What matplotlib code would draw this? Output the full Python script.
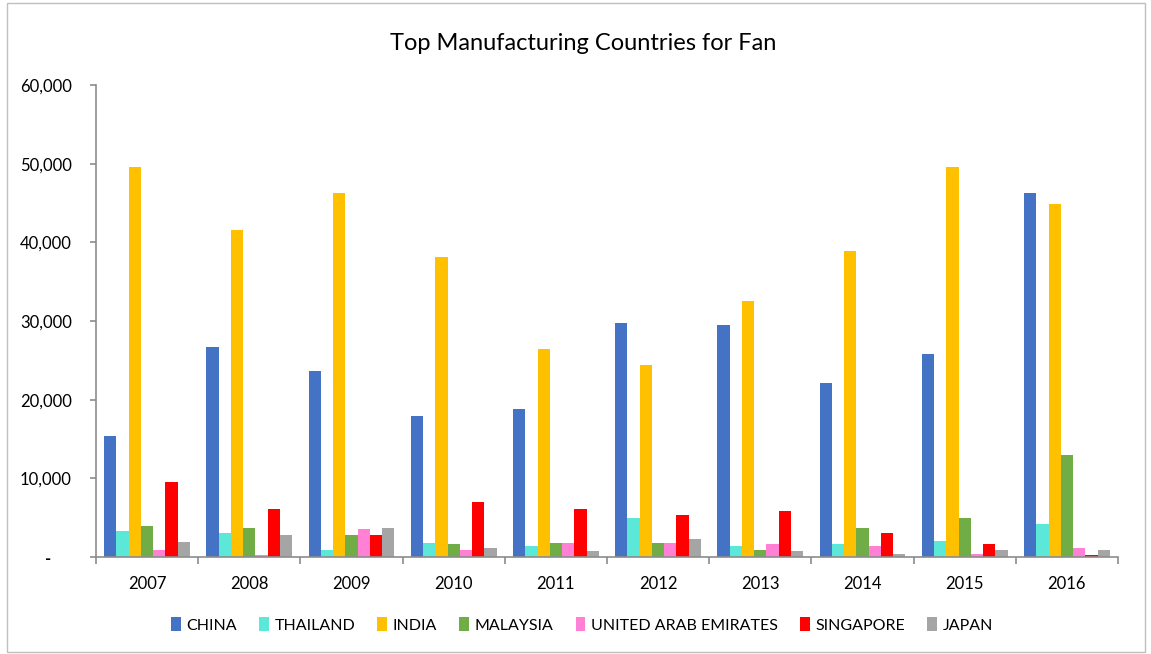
import matplotlib
matplotlib.use("Agg")
import matplotlib.pyplot as plt
import numpy as np
from matplotlib.patches import Rectangle, Patch
from matplotlib.ticker import FuncFormatter

years = ["2007", "2008", "2009", "2010", "2011", "2012", "2013", "2014", "2015", "2016"]
countries = ["CHINA", "THAILAND", "INDIA", "MALAYSIA", "UNITED ARAB EMIRATES", "SINGAPORE", "JAPAN"]
china = [15400, 26750, 23700, 17900, 18850, 29800, 29550, 22100, 25850, 46300]
thailand = [3250, 3000, 900, 1800, 1400, 4900, 1400, 1600, 2000, 4200]
india = [49600, 41600, 46300, 38150, 26500, 24450, 32600, 38850, 49600, 44900]
malaysia = [3900, 3700, 2800, 1600, 1800, 1800, 900, 3700, 4900, 13000]
uae = [900, 200, 3500, 900, 1800, 1800, 1600, 1400, 400, 1150]
singapore = [9500, 6100, 2800, 7000, 6100, 5300, 5800, 3000, 1600, 200]
japan = [1870, 2800, 3700, 1150, 700, 2300, 700, 400, 900, 900]
colors = ["#4472C4", "#5BE8D8", "#FFC000", "#70AD47", "#FF80D5", "#FF0000", "#A5A5A5"]

series = [china, thailand, india, malaysia, uae, singapore, japan]

plt.rcParams['font.family'] = ['Lato', 'DejaVu Sans']

fig = plt.figure(figsize=(11.51, 6.54), dpi=100)
ax = fig.add_axes([96/1151, 97/654, (1118-96)/1151, (557-85)/654])

x = np.arange(len(years))
bw = 0.12
n = len(series)
for i, (vals, c, name) in enumerate(zip(series, colors, countries)):
    ax.bar(x + (i - (n-1)/2) * bw, vals, width=bw, color=c, label=name, zorder=2)

ax.set_xlim(-0.5, len(years) - 0.5)
ax.set_ylim(0, 60000)
ax.set_yticks(np.arange(0, 60001, 10000))
ax.yaxis.set_major_formatter(FuncFormatter(lambda v, p: "-     " if v == 0 else f"{int(v):,}"))
ax.set_xticks(x)
ax.set_xticklabels(years)
ax.set_xticks(np.arange(-0.5, len(years), 1), minor=True)
ax.tick_params(axis='x', which='major', length=0, pad=14, labelsize=12)
ax.tick_params(axis='x', which='minor', length=5, width=1.2, color='#8C8C8C', direction='out')
ax.tick_params(axis='y', length=4.5, width=1.2, color='#8C8C8C', labelsize=12, pad=13)
ax.get_yticklabels()[0].set_fontweight('bold')

for s in ['top', 'right']:
    ax.spines[s].set_visible(False)
for s in ['left', 'bottom']:
    ax.spines[s].set_color('#8C8C8C')
    ax.spines[s].set_linewidth(1.2)

fig.text(583/1151, 1 - 43/654, "Top Manufacturing Countries for Fan", ha='center', va='center', fontsize=17)

handles = [Patch(facecolor=c, label=nm) for c, nm in zip(colors, countries)]
fig.legend(handles=handles, loc='center', bbox_to_anchor=(582/1151, 1 - 625/654), ncol=7,
           frameon=False, fontsize=11.5, handlelength=0.6, handleheight=1.0,
           handletextpad=0.35, columnspacing=1.4)

fig.patches.append(Rectangle((7/1151, 2/654), 1138/1151, 649/654, transform=fig.transFigure,
                             fill=False, edgecolor='#BFBFBF', linewidth=1))

fig.savefig("out.png", dpi=100)
